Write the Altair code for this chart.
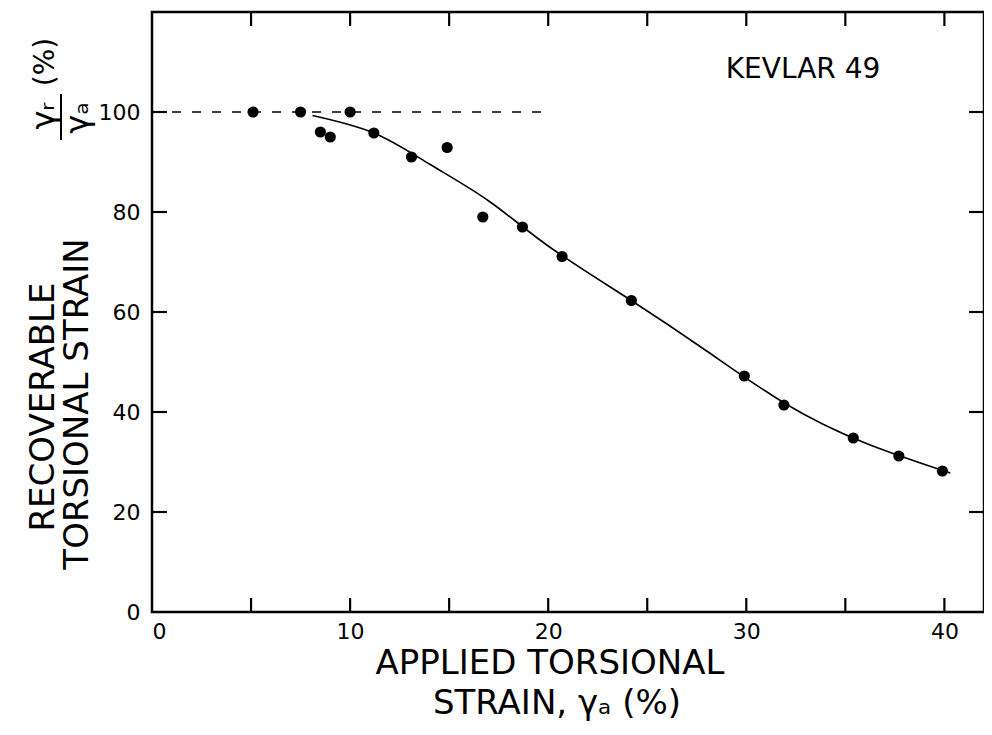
import altair as alt
import pandas as pd

# measured points
strain_applied = [5.1, 7.5, 8.5, 9.0, 10.0, 11.2, 13.1, 14.9, 16.7, 18.7, 20.7, 24.2, 29.9, 31.9, 35.4, 37.7, 39.9]
recoverable = [100, 100, 96.0, 95.0, 100, 95.8, 91.0, 92.9, 79.0, 77.0, 71.1, 62.3, 47.2, 41.4, 34.8, 31.2, 28.2]

# fitted curve
curve_x = [8.1, 11.2, 14.0, 17.0, 20.0, 24.0, 28.0, 32.0, 36.0, 40.3]
curve_y = [99.3, 95.8, 89.6, 82.2, 73.2, 62.8, 52.2, 41.6, 33.8, 27.8]

# dashed 100 % reference
ref_x = [0, 20]
ref_y = [100, 100]

x_ticks = [5, 10, 15, 20, 25, 30, 35, 40]
x_labels = [0, 10, 20, 30, 40]
y_ticks = [20, 40, 60, 80, 100]
y_labels = [0, 20, 40, 60, 80, 100]

XMAX = 42.0
YMAX = 120
W, H = 832, 600
FONT = "DejaVu Sans"

xs = alt.Scale(domain=[0, XMAX], nice=False, zero=False)
ys = alt.Scale(domain=[0, YMAX], nice=False, zero=False)

pts = pd.DataFrame({"x": strain_applied, "y": recoverable})
crv = pd.DataFrame({"x": curve_x, "y": curve_y})
ref = pd.DataFrame({"x": ref_x, "y": ref_y})
xt = pd.DataFrame({"v": x_ticks})
yt = pd.DataFrame({"v": y_ticks})

x_axis = alt.Axis(values=x_labels, title=None, labelPadding=9, labelFontSize=22,
                  labelFont=FONT, labelColor="black", ticks=False, domain=False, grid=False)
y_axis = alt.Axis(values=y_labels, title=None, labelPadding=12, labelFontSize=22,
                  labelFont=FONT, labelColor="black", ticks=False, domain=False, grid=False)

points = alt.Chart(pts).mark_circle(size=125, color="black", opacity=1).encode(
    x=alt.X("x:Q", scale=xs, axis=x_axis),
    y=alt.Y("y:Q", scale=ys, axis=y_axis),
)

curve = alt.Chart(crv).mark_line(color="black", strokeWidth=1.6, interpolate="natural").encode(
    x=alt.X("x:Q", scale=xs), y=alt.Y("y:Q", scale=ys)
)

dashed = alt.Chart(ref).mark_line(color="black", strokeWidth=1.6, strokeDash=[9, 11]).encode(
    x=alt.X("x:Q", scale=xs), y=alt.Y("y:Q", scale=ys)
)

tick_style = dict(color="black", strokeWidth=2.2)
bottom_ticks = alt.Chart(xt).mark_rule(**tick_style).encode(
    x=alt.X("v:Q", scale=xs), y=alt.value(H), y2=alt.value(H - 14))
top_ticks = alt.Chart(xt).mark_rule(**tick_style).encode(
    x=alt.X("v:Q", scale=xs), y=alt.value(0), y2=alt.value(14))
left_ticks = alt.Chart(yt).mark_rule(**tick_style).encode(
    y=alt.Y("v:Q", scale=ys), x=alt.value(0), x2=alt.value(15))
right_ticks = alt.Chart(yt).mark_rule(**tick_style).encode(
    y=alt.Y("v:Q", scale=ys), x=alt.value(W), x2=alt.value(W - 15))


def txt(text, x, y, size, angle=0, align="center"):
    return alt.Chart(pd.DataFrame({"t": [text]})).mark_text(
        font=FONT, fontSize=size, color="black", angle=angle, align=align, baseline="middle"
    ).encode(text="t:N", x=alt.value(x), y=alt.value(y))


label_kevlar = txt("KEVLAR  49", 651, 58, 28)
xt1 = txt("APPLIED TORSIONAL", 398, 652, 34)
xt2 = txt("STRAIN, γₐ (%)", 405, 692, 34)
yt1 = txt("RECOVERABLE", -108, 395, 34, angle=270)
yt2 = txt("TORSIONAL  STRAIN", -74, 392, 34, angle=270)
frac_num = txt("γᵣ", -108, 104, 32, angle=270)
frac_den = txt("γₐ", -74, 106, 32, angle=270)
pct = txt("(%)", -106, 50, 28, angle=270)
frac_bar = alt.Chart(pd.DataFrame({"a": [0]})).mark_rule(color="black", strokeWidth=2).encode(
    x=alt.value(-91), y=alt.value(82), y2=alt.value(128))

chart = alt.layer(
    dashed, curve, points,
    bottom_ticks, top_ticks, left_ticks, right_ticks,
    label_kevlar, xt1, xt2, yt1, yt2, frac_num, frac_den, pct, frac_bar,
).properties(
    width=W, height=H,
    padding={"left": 144, "top": 4, "right": 0, "bottom": 115},
    autosize=alt.AutoSizeParams(type="none"),
    background="white",
).configure_view(stroke="black", strokeWidth=2.5)

chart.save("out.html", embed_options={"renderer": "svg", "actions": False})
